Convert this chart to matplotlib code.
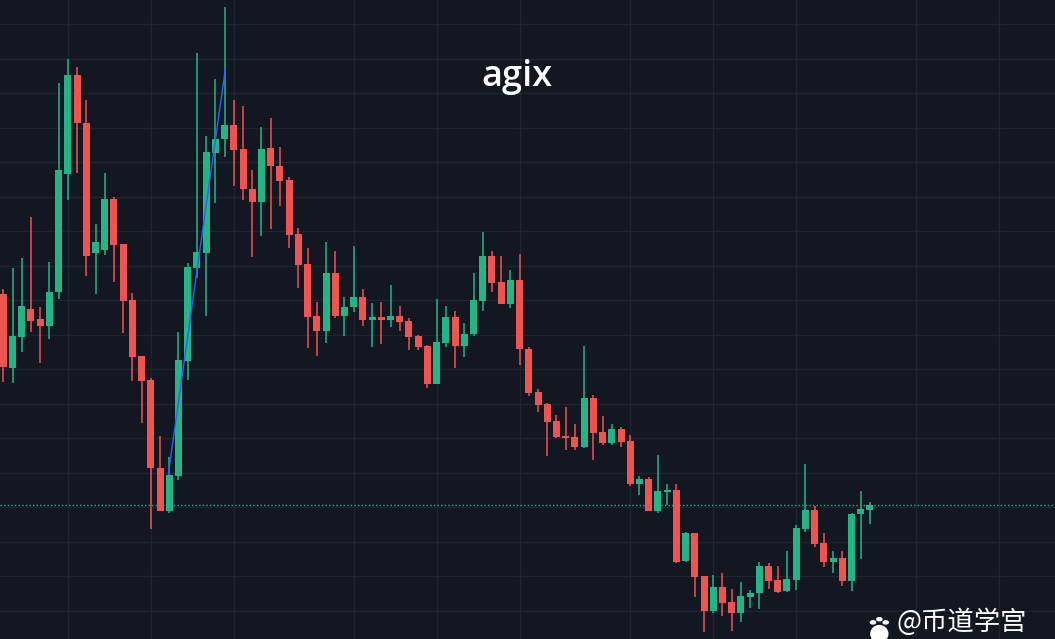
import numpy as np
import matplotlib
matplotlib.use('Agg')
from matplotlib import pyplot as plt
from matplotlib.patches import Circle, Ellipse

# candle values (arbitrary price units)
opens = [345, 271, 302, 330, 320, 313, 347, 465, 564, 516, 386, 389, 440, 395, 339, 283, 259, 171, 128, 163,
         278, 371, 386, 486, 500, 514, 490, 450, 437, 491, 473, 459, 405, 375, 323, 308, 366, 323, 332, 342,
         319, 322, 319, 323, 318, 303, 293, 255, 296, 322, 293, 305, 338, 383, 357, 335, 359, 290, 247, 235,
         218, 203, 202, 192, 241, 207, 196, 210, 198, 155, 160, 128, 147, 149, 78, 106, 63, 28, 52, 37,
         26, 42, 46, 73, 59, 48, 59, 110, 129, 96, 77, 81, 58, 125, 129]
closes = [272, 303, 333, 318, 313, 347, 469, 564, 516, 383, 397, 440, 394, 338, 282, 258, 171, 128, 164, 279,
          372, 387, 487, 500, 514, 489, 450, 437, 490, 473, 458, 404, 374, 322, 308, 366, 323, 332, 342, 319,
          322, 319, 323, 317, 302, 292, 255, 297, 322, 293, 305, 339, 383, 356, 335, 359, 290, 246, 234, 217,
          202, 201, 192, 241, 206, 196, 210, 197, 155, 160, 128, 148, 149, 77, 106, 62, 28, 52, 36, 26,
          43, 46, 73, 58, 47, 60, 111, 129, 95, 77, 81, 58, 125, 130, 134]
highs = [350, 371, 381, 422, 332, 377, 556, 580, 572, 539, 415, 466, 442, 395, 346, 283, 261, 203, 182, 307,
         376, 586, 503, 560, 632, 539, 533, 469, 512, 521, 492, 462, 411, 391, 337, 397, 388, 342, 393, 350,
         336, 337, 354, 333, 321, 304, 294, 340, 333, 328, 316, 366, 407, 388, 383, 369, 385, 292, 250, 236,
         224, 232, 215, 293, 244, 223, 215, 212, 204, 163, 162, 184, 155, 155, 107, 106, 63, 64, 66, 50,
         57, 49, 77, 76, 73, 88, 114, 175, 133, 106, 88, 88, 126, 148, 137]
lows = [257, 256, 287, 307, 276, 300, 340, 439, 466, 363, 345, 384, 357, 306, 258, 216, 110, 128, 126, 159,
        259, 361, 323, 436, 482, 453, 439, 382, 403, 410, 433, 391, 351, 291, 283, 296, 321, 303, 327, 313,
        292, 295, 312, 308, 289, 289, 251, 255, 292, 271, 282, 303, 328, 347, 335, 331, 274, 243, 227, 183,
        201, 189, 189, 191, 179, 194, 194, 192, 153, 144, 128, 126, 134, 76, 77, 42, 7, 26, 23, 8,
        17, 31, 30, 50, 46, 47, 49, 107, 92, 72, 66, 53, 48, 80, 115]

last_price = 134
grid_idx = [7, 16, 25, 38, 47, 56, 68, 77, 86, 99, 108]   # date ticks (candle index)
trend_x = [17.9, 24.1]
trend_y = [165, 571]

bg = '#131722'
grid_col = '#20242f'
up_col = '#22b585'
down_col = '#f05350'

fig = plt.figure(figsize=(10.55, 6.39), dpi=100, facecolor=bg)
ax = fig.add_axes([0, 0, 1, 1])
ax.set_facecolor(bg)

x = np.arange(len(opens))
o = np.array(opens)
c = np.array(closes)
cols = [up_col if cc >= oo else down_col for oo, cc in zip(o, c)]

# grid
for g in grid_idx:
    ax.axvline(g, color=grid_col, lw=1, zorder=0)
for h in np.arange(28.5, 640, 34.5):
    ax.axhline(h, color=grid_col, lw=1, zorder=0)

# wicks and bodies
ax.vlines(x, lows, highs, colors=cols, lw=1.1, zorder=2)
body_h = np.maximum(np.abs(c - o), 1.8)
ax.bar(x, body_h, bottom=np.minimum(o, c), width=0.76, color=cols, linewidth=0, zorder=3)

# trend line
ax.plot(trend_x, trend_y, color='#2962ff', lw=1, zorder=4)

# last price line
ax.axhline(last_price, color=up_col, lw=1.0, ls=(0, (1, 1.6)), zorder=1)

ax.set_xlim(-0.36, 114.07)
ax.set_ylim(0, 639)
ax.axis('off')

fig.text(0.49, 0.88, 'agix', color='white', fontsize=26, fontweight='semibold',
         family='Open Sans', ha='center', va='center')

# watermark with paw icon
fig.text(0.850, 0.004, '@币道学宫', color='white', fontsize=19, ha='left', va='bottom',
         family=['Noto Sans CJK SC', 'DejaVu Sans'])
for px, py in [(0.8275, 0.026), (0.8335, 0.031), (0.8395, 0.026)]:
    fig.patches.append(Circle((px, py), 0.00245, transform=fig.transFigure, color='white'))
fig.patches.append(Ellipse((0.8335, 0.008), 0.016, 0.026, transform=fig.transFigure, color='white'))

plt.savefig('out.png', facecolor=bg)
plt.close()
